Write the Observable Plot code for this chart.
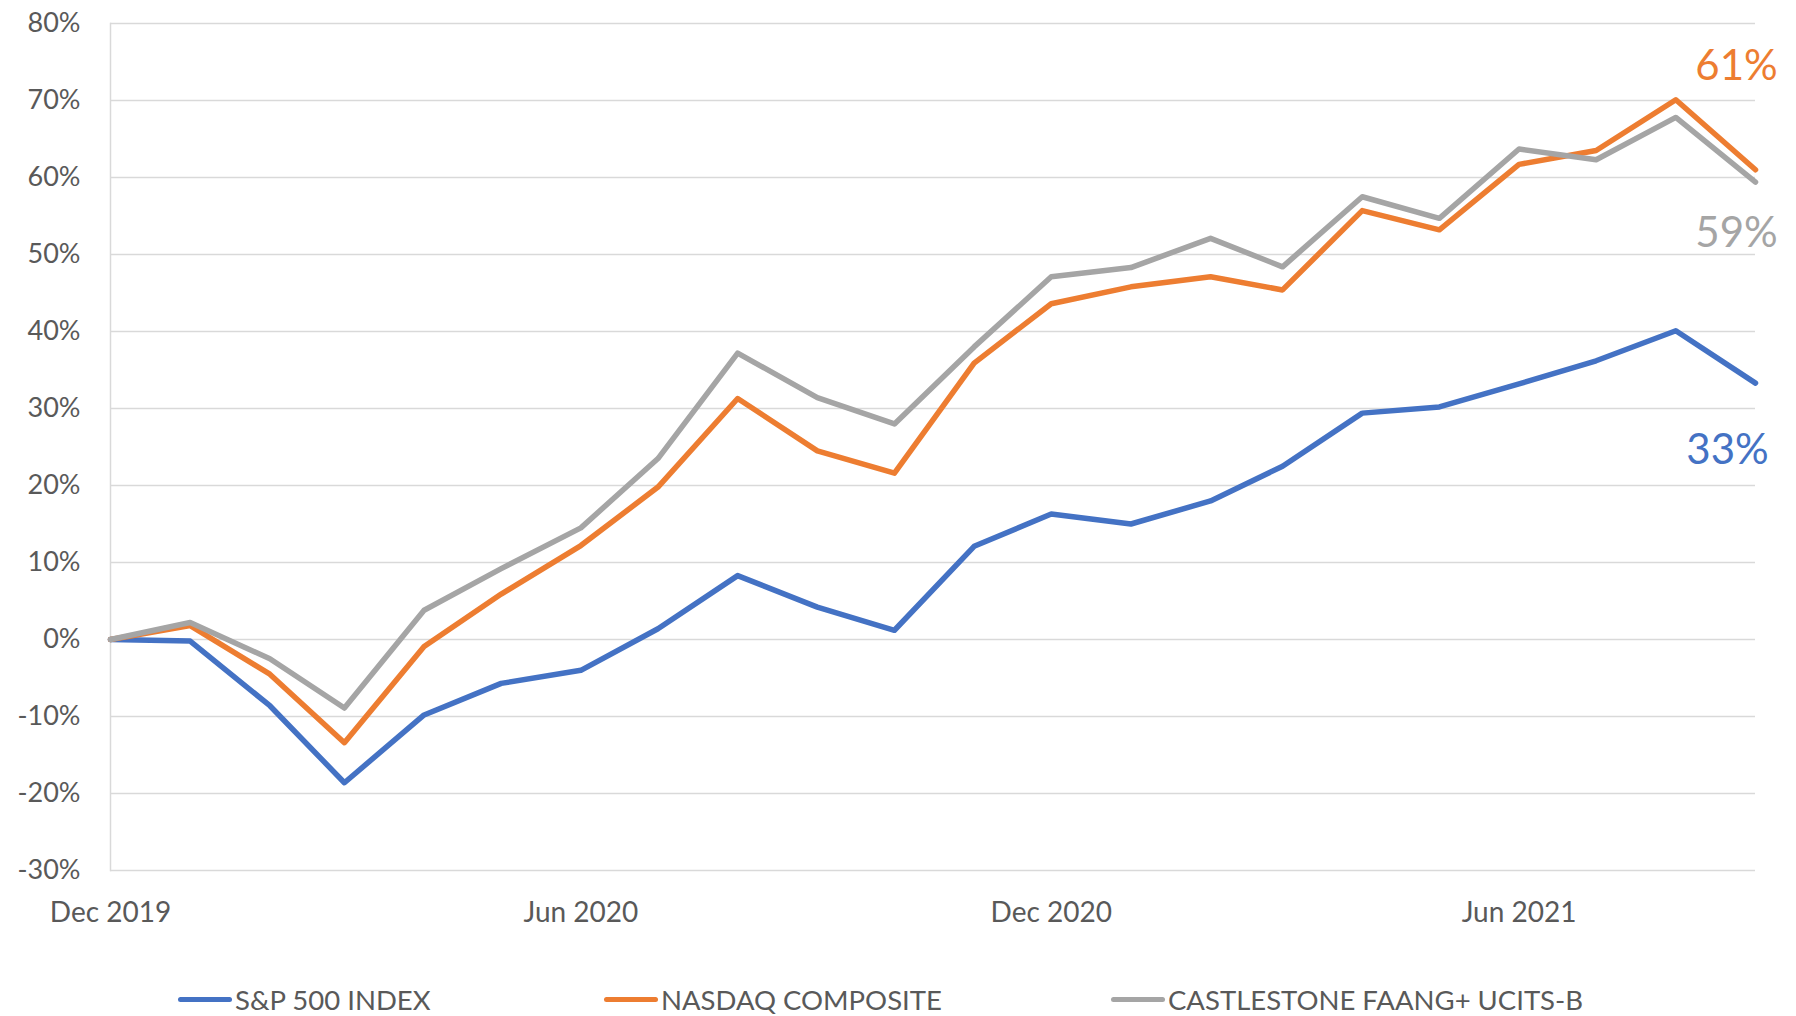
<!DOCTYPE html>
<html>
<head>
<meta charset="utf-8">
<script src="https://cdn.jsdelivr.net/npm/d3@7"></script>
<script src="https://cdn.jsdelivr.net/npm/@observablehq/plot@0.6"></script>
<style>
  html, body { margin: 0; padding: 0; background: #ffffff; }
  body { width: 1796px; height: 1016px; overflow: hidden; font-family: Lato, "Open Sans", sans-serif; }
  #legend { position: relative; width: 1796px; height: 76px; }
  .item { position: absolute; top: 43px; display: flex; align-items: center; font-size: 27.5px; color: #595959; white-space: nowrap; }
  .swatch { display: inline-block; width: 54px; height: 5px; border-radius: 3px; margin-right: 3px; }
</style>
</head>
<body>
<div id="chart"></div>
<div id="legend"></div>
<script>
// ---- Data (percent return since Dec 2019) ----
const months = ["2019-12","2020-01","2020-02","2020-03","2020-04","2020-05","2020-06","2020-07","2020-08","2020-09","2020-10","2020-11","2020-12","2021-01","2021-02","2021-03","2021-04","2021-05","2021-06","2021-07","2021-08","2021-09"];
const sp500  = [0, -0.2, -8.6, -18.6, -9.8, -5.7, -4.0, 1.4, 8.3, 4.2, 1.2, 12.1, 16.3, 15.0, 18.0, 22.5, 29.4, 30.2, 33.2, 36.2, 40.1, 33.3];
const nasdaq = [0, 1.8, -4.5, -13.4, -0.9, 5.9, 12.2, 19.8, 31.3, 24.5, 21.6, 35.9, 43.6, 45.8, 47.1, 45.4, 55.7, 53.2, 61.7, 63.5, 70.1, 61.0];
const faang  = [0, 2.2, -2.5, -8.9, 3.8, 9.2, 14.5, 23.5, 37.2, 31.4, 28.0, 38.0, 47.1, 48.3, 52.1, 48.4, 57.5, 54.7, 63.7, 62.3, 67.8, 59.4];
const seriesNames  = ["S&P 500 INDEX", "NASDAQ COMPOSITE", "CASTLESTONE FAANG+ UCITS-B"];
const seriesColors = ["#4472C4", "#ED7D31", "#A5A5A5"];
const yTicks = [-30, -20, -10, 0, 10, 20, 30, 40, 50, 60, 70, 80];
const xTickMonths = ["2019-12", "2020-06", "2020-12", "2021-06"];
const xTickLabels = ["Dec 2019", "Jun 2020", "Dec 2020", "Jun 2021"];

// ---- Build table ----
const parse = d3.utcParse("%Y-%m");
const seriesValues = [sp500, nasdaq, faang];
const rows = [];
seriesValues.forEach((vals, i) => {
  vals.forEach((v, j) => rows.push({date: parse(months[j]), value: v, series: seriesNames[i]}));
});
const lastRows = seriesValues.map((vals, i) => ({
  date: parse(months[months.length - 1]),
  value: vals[vals.length - 1],
  series: seriesNames[i],
  label: Math.round(vals[vals.length - 1]) + "%"
}));
const xTickDates = xTickMonths.map(parse);
const tickLabelMap = new Map(xTickDates.map((d, i) => [+d, xTickLabels[i]]));

const labelOffsets = [
  {dx: -28, dy: 67},   // S&P
  {dx: -19, dy: -103}, // NASDAQ
  {dx: -19, dy: 51}    // FAANG
];

const chart = Plot.plot({
  width: 1796,
  height: 940,
  marginTop: 23,
  marginLeft: 110,
  marginRight: 41,
  marginBottom: 70,
  style: {fontFamily: "Lato, 'Open Sans', sans-serif", fontSize: "27px", color: "#595959", background: "#ffffff"},
  x: {type: "utc", domain: [parse(months[0]), parse(months[months.length - 1])]},
  y: {domain: [-30, 80]},
  color: {domain: seriesNames, range: seriesColors},
  marks: [
    Plot.ruleY(yTicks, {stroke: "#D9D9D9", strokeWidth: 1.5}),
    Plot.frame({anchor: "left", stroke: "#D9D9D9", strokeWidth: 1.5}),
    Plot.axisY(yTicks, {tickSize: 0, tickPadding: 30, tickFormat: d => d + "%", fill: "#595959", fontSize: 27, label: null}),
    Plot.axisX(xTickDates, {tickSize: 0, tickPadding: 32, tickFormat: d => tickLabelMap.get(+d), fill: "#595959", fontSize: 28, label: null}),
    Plot.line(rows, {x: "date", y: "value", z: "series", stroke: "series", strokeWidth: 5.5, strokeLinejoin: "round", strokeLinecap: "round"}),
    ...lastRows.map((r, i) => Plot.text([r], {
      x: "date", y: "value", text: "label",
      fill: seriesColors[i], fontSize: 42,
      dx: labelOffsets[i].dx, dy: labelOffsets[i].dy
    }))
  ]
});
document.getElementById("chart").appendChild(chart);

// ---- Legend ----
const legendLefts = [178, 604, 1111];
const legend = document.getElementById("legend");
seriesNames.forEach((name, i) => {
  const item = document.createElement("div");
  item.className = "item";
  item.style.left = legendLefts[i] + "px";
  const sw = document.createElement("span");
  sw.className = "swatch";
  sw.style.background = seriesColors[i];
  const tx = document.createElement("span");
  tx.textContent = name;
  item.appendChild(sw);
  item.appendChild(tx);
  legend.appendChild(item);
});
</script>
</body>
</html>
